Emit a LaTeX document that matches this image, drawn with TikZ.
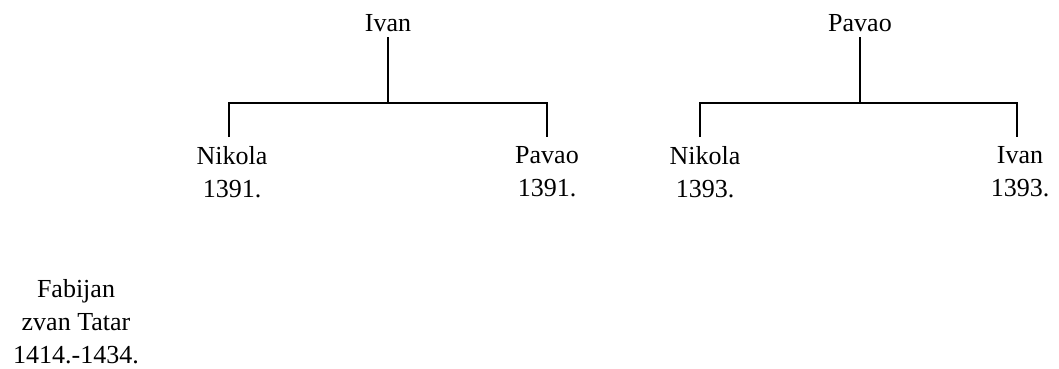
\documentclass[tikz,border=0pt]{standalone}
\usepackage{fontspec}
\setmainfont{Liberation Serif}
\begin{document}
\begin{tikzpicture}[x=1pt,y=-1pt,
  person/.style={font=\fontsize{26}{33}\selectfont, align=center, inner sep=0pt},
  link/.style={line width=2pt, black}]
\useasboundingbox (0,0) rectangle (1059,368);
% tree 1
\node[person, anchor=south, inner ysep=5pt] (ivanA) at (388,37) {Ivan};
\node[person, anchor=north, inner ysep=9pt] (nikA) at (232,137) {Nikola\\1391.};
\node[person, anchor=north, inner ysep=9pt] (pavA) at (547,137) {Pavao\\1391.};
\coordinate (jA) at (388,103);
\draw[link] (ivanA.south) -- (jA);
\draw[link] (nikA.north -| 229,0) |- (jA) -| (pavA.north);
% tree 2
\node[person, anchor=south, inner ysep=5pt] (pavB) at (860,37) {Pavao};
\node[person, anchor=north, inner ysep=9pt] (nikB) at (705,137) {Nikola\\1393.};
\node[person, anchor=north, inner ysep=9pt] (ivanB) at (1020,137) {Ivan\\1393.};
\coordinate (jB) at (860,103);
\draw[link] (pavB.south) -- (jB);
\draw[link] (nikB.north -| 700,0) |- (jB) -| (ivanB.north -| 1017,0);
% lone
\node[person, anchor=north] (fab) at (76,279) {Fabijan\\zvan Tatar\\1414.-1434.};
\end{tikzpicture}
\end{document}
